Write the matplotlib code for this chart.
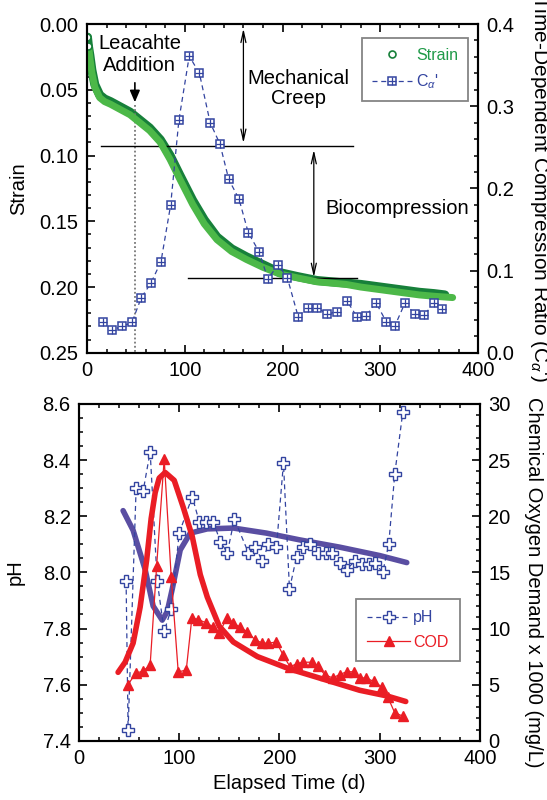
import numpy as np
import matplotlib
matplotlib.use("Agg")
import matplotlib.pyplot as plt
from matplotlib.ticker import MultipleLocator

plt.rcParams['font.family'] = ['Liberation Sans', 'DejaVu Sans']
plt.rcParams['mathtext.fontset'] = 'custom'
plt.rcParams['mathtext.rm'] = 'Liberation Sans'
plt.rcParams['mathtext.it'] = 'Liberation Sans:italic'

# settlement data (days)
strain_t = [0.5, 1.5, 3, 5, 8, 13, 18, 24, 34, 44, 54, 64, 75, 85, 95, 108, 120, 133,
            148, 163, 180, 197, 215, 235, 250, 265, 280, 300, 320, 340, 355, 366]
strain = [0.010, 0.017, 0.024, 0.035, 0.046, 0.054, 0.057, 0.059, 0.063, 0.067, 0.073,
          0.079, 0.088, 0.100, 0.115, 0.134, 0.149, 0.162, 0.171, 0.177, 0.183, 0.189,
          0.192, 0.195, 0.196, 0.197, 0.198, 0.200, 0.202, 0.204, 0.205, 0.206]

fit_t = [2, 3, 5, 8, 13, 18, 24, 34, 44, 54, 64, 75, 85, 95, 108, 120, 133, 148, 163,
         180, 197, 215, 235, 250, 265, 280, 300, 320, 340, 355, 374]
strain_fit = [0.019, 0.026, 0.037, 0.048, 0.056, 0.059, 0.061, 0.065, 0.069, 0.075,
              0.081, 0.090, 0.103, 0.118, 0.137, 0.152, 0.164, 0.173, 0.179, 0.185,
              0.190, 0.193, 0.196, 0.197, 0.198, 0.200, 0.202, 0.204, 0.206, 0.207, 0.208]

# time-dependent compression ratio
ca_t = [16, 26, 36, 46, 55.5, 65.5, 75.7, 85.6, 94, 104.6, 115, 126, 136, 145, 155.5,
        165, 176, 185, 195.6, 205, 216, 226, 235.5, 245.5, 255.5, 266, 276, 285.5,
        295.6, 306, 315, 325, 335.5, 345, 355, 363]
ca = [0.038, 0.028, 0.032, 0.037, 0.067, 0.085, 0.111, 0.180, 0.283, 0.361, 0.340,
      0.280, 0.254, 0.211, 0.187, 0.146, 0.123, 0.090, 0.107, 0.091, 0.044, 0.055,
      0.055, 0.047, 0.050, 0.063, 0.044, 0.045, 0.061, 0.038, 0.033, 0.060, 0.047,
      0.046, 0.061, 0.053]

# leachate chemistry
ph_t = [47, 49, 57, 64, 71, 78, 85, 92, 100, 113, 120, 127, 134, 141, 148, 155, 169,
        176, 183, 189, 197, 204, 210, 217, 223, 230, 238, 246, 252, 260, 267, 275, 282,
        289, 295, 303, 309, 315, 323]
ph = [7.97, 7.44, 8.30, 8.29, 8.43, 7.97, 7.79, 7.87, 8.14, 8.27, 8.18, 8.18, 8.18,
      8.11, 8.07, 8.19, 8.07, 8.09, 8.04, 8.10, 8.09, 8.39, 7.94, 8.055, 8.09, 8.10,
      8.07, 8.07, 8.07, 8.035, 8.01, 8.04, 8.03, 8.03, 8.035, 8.00, 8.10, 8.35, 8.57]

cod_t = [48.6, 57, 64, 71, 77.5, 85, 92, 99, 107, 112.6, 119, 127, 134, 140, 147.5, 154,
         161, 168, 175.6, 183, 189, 197, 203.5, 210.5, 217, 223, 232, 238, 245, 253, 260,
         267, 274, 280, 286, 294, 302, 308, 315, 323]
cod = [4.98, 6.04, 6.2, 6.77, 15.6, 25.1, 14.6, 6.14, 6.3, 10.95, 10.8, 10.5, 10.15,
       9.6, 10.95, 10.5, 10.1, 9.7, 9.0, 8.7, 8.7, 8.8, 7.66, 6.6, 6.85, 7.0, 7.0, 6.7,
       5.9, 5.6, 5.9, 6.15, 6.15, 5.6, 5.6, 5.3, 4.8, 3.9, 2.5, 2.2]

ph_fit_t = [44, 54, 66, 74, 83, 88, 93, 101, 111, 128, 154, 187, 220, 260, 300, 327]
ph_fit = [8.22, 8.15, 8.01, 7.88, 7.83, 7.86, 7.94, 8.08, 8.14, 8.155, 8.158, 8.14,
          8.116, 8.09, 8.06, 8.035]

cod_fit_t = [39, 46, 54, 61, 67.5, 72, 76, 80, 86, 95, 104, 113, 121, 128, 140, 154,
             178, 210, 247, 280, 307, 326]
cod_fit = [6.1, 7.0, 8.7, 11.9, 16.1, 19.8, 22.1, 23.4, 23.9, 23.2, 20.8, 18.2, 14.8,
           12.8, 10.2, 8.8, 7.5, 6.4, 5.4, 4.5, 4.0, 3.5]

dkgreen = '#17803a'
ltgreen = '#4cb848'
blue = '#3344a0'
purple = '#5a4ea2'
red = '#ea1d25'
FS = 14.5


def style(ax, left=True, right=False):
    ax.tick_params(which='major', direction='in', length=5.5, width=1.2,
                   labelsize=FS, pad=6, top=True, left=left, right=right)
    ax.tick_params(which='minor', direction='in', length=3, width=1.1,
                   top=True, left=left, right=right)
    for s in ax.spines.values():
        s.set_linewidth(1.5)


fig = plt.figure(figsize=(5.47, 8), dpi=100)

# ---- top panel: strain and C_alpha'
ax1 = fig.add_axes([0.159, 0.559, 0.715, 0.411])
ax1r = ax1.twinx()

ax1.plot(strain_t, strain, color=dkgreen, lw=6.5, solid_capstyle='round', zorder=2)
circ, = ax1.plot(strain_t[:2], strain[:2], 'o', mfc='white', mec=dkgreen, ms=5,
                 mew=1.2, zorder=4)
ax1.plot(fit_t, strain_fit, color=ltgreen, lw=5, solid_capstyle='round', zorder=3)

ca_line, = ax1r.plot(ca_t, ca, ls=(0, (4, 3)), lw=0.9, color=blue, marker='s',
                     mfc='white', mec=blue, ms=6, mew=1.1)
ca_plus, = ax1r.plot(ca_t, ca, ls='none', marker='+', color=blue, ms=6, mew=0.9)

ax1.set_xlim(0, 400)
ax1.set_ylim(0.25, 0.0)
ax1r.set_ylim(0, 0.4)
ax1.xaxis.set_major_locator(MultipleLocator(100))
ax1.xaxis.set_minor_locator(MultipleLocator(20))
ax1.yaxis.set_major_locator(MultipleLocator(0.05))
ax1.yaxis.set_minor_locator(MultipleLocator(0.01))
ax1.yaxis.set_major_formatter(plt.FormatStrFormatter('%.2f'))
ax1r.yaxis.set_major_locator(MultipleLocator(0.1))
ax1r.yaxis.set_minor_locator(MultipleLocator(0.02))
ax1r.yaxis.set_major_formatter(plt.FormatStrFormatter('%.1f'))
style(ax1)
style(ax1r, left=False, right=True)
ax1.set_ylabel('Strain', fontsize=FS)
ax1.yaxis.set_label_coords(-0.15, 0.5)
fig.text(539 / 547, 1 - 382 / 800, "Time-Dependent Compression Ratio (C$_{\\alpha}$')",
         rotation=270, ha='center', va='bottom', fontsize=15)

# leachate addition marker
ax1.annotate('', xy=(49, 0.0616), xytext=(49, 0.0426),
             arrowprops=dict(arrowstyle='-|>,head_length=0.7,head_width=0.3',
                             color='k', lw=1.2))
ax1.plot([49, 49], [0.0616, 0.25], color='#777777', lw=1.3, ls=(0, (1, 1.3)))
ax1.text(54, 0.023, 'Leacahte\nAddition', ha='center', va='center', fontsize=FS,
         linespacing=1.2)

# creep / biocompression brackets
ax1.plot([14.3, 272], [0.0927, 0.0927], color='k', lw=1)
ax1.plot([103, 276], [0.193, 0.193], color='k', lw=1)
ax1.annotate('', xy=(160, 0.0035), xytext=(160, 0.0905),
             arrowprops=dict(arrowstyle='<->,head_length=0.8,head_width=0.18',
                             color='k', lw=0.9, shrinkA=0, shrinkB=0))
ax1.annotate('', xy=(232, 0.0957), xytext=(232, 0.1925),
             arrowprops=dict(arrowstyle='<->,head_length=0.8,head_width=0.18',
                             color='k', lw=0.9, shrinkA=0, shrinkB=0))
ax1.text(216, 0.049, 'Mechanical\nCreep', ha='center', va='center', fontsize=FS,
         linespacing=1.1)
ax1.text(317, 0.140, 'Biocompression', ha='center', va='center', fontsize=FS)

leg1 = ax1r.legend([circ, (ca_line, ca_plus)], ['Strain', "C$_{\\alpha}$'"],
                   loc='upper right', bbox_to_anchor=(0.974, 0.957), fontsize=11.5,
                   frameon=True, fancybox=False, edgecolor='#666666',
                   borderpad=0.6, borderaxespad=0, handlelength=2.6,
                   handletextpad=0.2, labelspacing=0.6)
leg1.get_frame().set_linewidth(1.3)
leg1.get_texts()[0].set_color('#1f9a48')
leg1.get_texts()[1].set_color(blue)

# ---- bottom panel: pH and COD
ax2 = fig.add_axes([0.1444, 0.074, 0.733, 0.421])
ax2r = ax2.twinx()

ph_line, = ax2.plot(ph_t, ph, ls=(0, (4, 3)), lw=0.9, color=blue, marker='P',
                    mfc='white', mec=blue, ms=8.5, mew=1.0, zorder=3)
ax2.plot(ph_fit_t, ph_fit, color=purple, lw=4, solid_capstyle='round', zorder=2)

cod_line, = ax2r.plot(cod_t, cod, color=red, lw=0.9, marker='^', ms=7.5,
                      mec=red, mfc=red)
ax2r.plot(cod_fit_t, cod_fit, color=red, lw=4, solid_capstyle='round')

ax2.set_xlim(0, 400)
ax2.set_ylim(7.4, 8.6)
ax2r.set_ylim(0, 30)
ax2.xaxis.set_major_locator(MultipleLocator(100))
ax2.xaxis.set_minor_locator(MultipleLocator(20))
ax2.yaxis.set_major_locator(MultipleLocator(0.2))
ax2.yaxis.set_minor_locator(MultipleLocator(0.05))
ax2.yaxis.set_major_formatter(plt.FormatStrFormatter('%.1f'))
ax2r.yaxis.set_major_locator(MultipleLocator(5))
ax2r.yaxis.set_minor_locator(MultipleLocator(1))
style(ax2)
style(ax2r, left=False, right=True)
ax2.set_ylabel('pH', fontsize=FS)
ax2.yaxis.set_label_coords(-0.135, 0.5)
ax2.set_xlabel('Elapsed Time (d)', fontsize=FS)
ax2.xaxis.set_label_coords(0.524, -0.098)
fig.text(533 / 547, 1 - 582 / 800, 'Chemical Oxygen Demand x 1000 (mg/L)',
         rotation=270, ha='center', va='center', fontsize=FS)

leg2 = ax2r.legend([ph_line, cod_line], ['pH', 'COD'], loc='upper right',
                   bbox_to_anchor=(0.95, 0.421), fontsize=11.5, frameon=True,
                   fancybox=False, edgecolor='#666666', borderpad=0.7,
                   borderaxespad=0, handlelength=2.7, handletextpad=0.2,
                   labelspacing=0.6)
leg2.get_frame().set_linewidth(1.3)
leg2.get_texts()[0].set_color(blue)
leg2.get_texts()[1].set_color(red)

fig.savefig('out.png', dpi=100)
